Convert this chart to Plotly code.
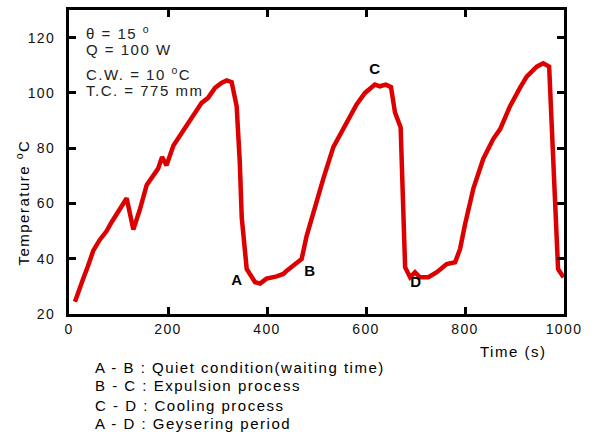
import plotly.graph_objects as go

time_s = [12, 20, 29, 38, 49, 62, 76, 86, 96, 106, 116.5, 130, 143, 157, 170, 180, 188, 197, 211, 224, 238, 251, 268, 281, 295,
          308, 318.6, 328.6, 338.7, 345, 349, 359, 376, 386, 399, 419.6, 433, 440, 456.6, 470, 480,
          493.6, 503.7, 513.8, 534, 557.6, 581, 598, 618, 628, 640, 650.5, 658.6, 670, 679, 689, 699,
          709, 726, 743, 763, 780, 790, 800, 817, 837, 857, 871, 891, 911, 924.6, 945, 958, 970, 978,
          988, 999]
temp_c = [24.4, 28.8, 32.9, 37.2, 42.9, 46.8, 50, 53.2, 56, 58.6, 61.9, 50.6, 57.7, 66.7, 70.2, 72.6, 76.8, 73.8, 81, 84.5, 88, 91.7, 96.4, 98.2, 101.8,
          103.6, 104.5, 103.9, 95.2, 75, 54.8, 36.3, 31.5, 31, 32.8, 33.6, 34.5, 35.7, 38.1, 39.9, 48.2,
          57.1, 63.1, 69, 80.4, 88.1, 95.8, 100, 103, 102.4, 103, 102.1, 92.9, 87.5, 36.9, 33.3, 35.1,
          33.3, 33.3, 35.1, 38.1, 38.7, 43.5, 52.4, 65.5, 76.2, 83.3, 86.9, 95.2, 101.8, 105.9, 109.5, 110.7, 109.5, 73.8,
          36.3, 33.3]

point_labels = ["A", "B", "C", "D"]
point_x = [341, 487, 620, 701]
point_y = [32.5, 35.7, 109, 31.8]

cond_lines = ["θ = 15 <sup>o</sup>", "Q = 100 W", "C.W. = 10 <sup>o</sup>C", "T.C. = 775 mm"]
cond_y = [121.8, 115.7, 107.1, 100.7]

notes = ["A - B : Quiet condition(waiting time)", "B - C : Expulsion process",
         "C - D : Cooling process", "A - D : Geysering period"]
notes_py = [368, 386, 406, 425]

x_ticks = [0, 200, 400, 600, 800, 1000]
y_ticks = [20, 40, 60, 80, 100, 120]

FONT = "Liberation Sans, Arial, sans-serif"

fig = go.Figure()
fig.add_trace(go.Scatter(x=time_s, y=temp_c, mode="lines",
                         line=dict(color="#dd0000", width=4.5), showlegend=False))

axis_common = dict(showline=True, linecolor="black", linewidth=3, mirror="ticks",
                   ticks="inside", ticklen=7, tickwidth=3, tickcolor="black",
                   showgrid=False, zeroline=False,
                   tickfont=dict(family=FONT, size=14, color="#111111"))

fig.update_xaxes(range=[0, 1000], tickvals=x_ticks, **axis_common)
fig.update_yaxes(range=[20, 130], tickvals=y_ticks, ticklabelstandoff=8, **axis_common)

ann = []
for t, x, y in zip(point_labels, point_x, point_y):
    ann.append(dict(x=x, y=y, xref="x", yref="y", text=f"<b>{t}</b>", showarrow=False,
                    font=dict(family=FONT, size=15, color="black")))
for t, y in zip(cond_lines, cond_y):
    ann.append(dict(x=30, y=y, xref="x", yref="y", text=t, showarrow=False, xanchor="left",
                    align="left", font=dict(family=FONT, size=15, color="#222222")))
H = 307.0
for t, py in zip(notes, notes_py):
    ann.append(dict(x=(93 - 69) / 495, y=(314 - py) / H, xref="paper", yref="paper", text=t,
                    showarrow=False, xanchor="left", yanchor="middle", align="left",
                    font=dict(family=FONT, size=15, color="black")))
ann.append(dict(x=(548 - 69) / 495, y=(314 - 352) / H, xref="paper", yref="paper", text="Time (s)",
                showarrow=False, xanchor="right", yanchor="middle", align="right",
                font=dict(family=FONT, size=15, color="black")))
ann.append(dict(x=(22 - 69) / 495, y=(314 - 202) / H, xref="paper", yref="paper",
                text="Temperature <sup>o</sup>C", textangle=-90, showarrow=False,
                xanchor="center", yanchor="middle",
                font=dict(family=FONT, size=15, color="black")))

fig.update_layout(width=595, height=439, margin=dict(l=69, r=31, t=7, b=125),
                  plot_bgcolor="white", paper_bgcolor="white", annotations=ann)

post = ("var s=document.createElement('style');"
        "s.textContent='body{margin:0;overflow:hidden} svg text{letter-spacing:0.1em}';"
        "document.head.appendChild(s);")
fig.write_html("out.html", post_script=post, config={"displayModeBar": False})
